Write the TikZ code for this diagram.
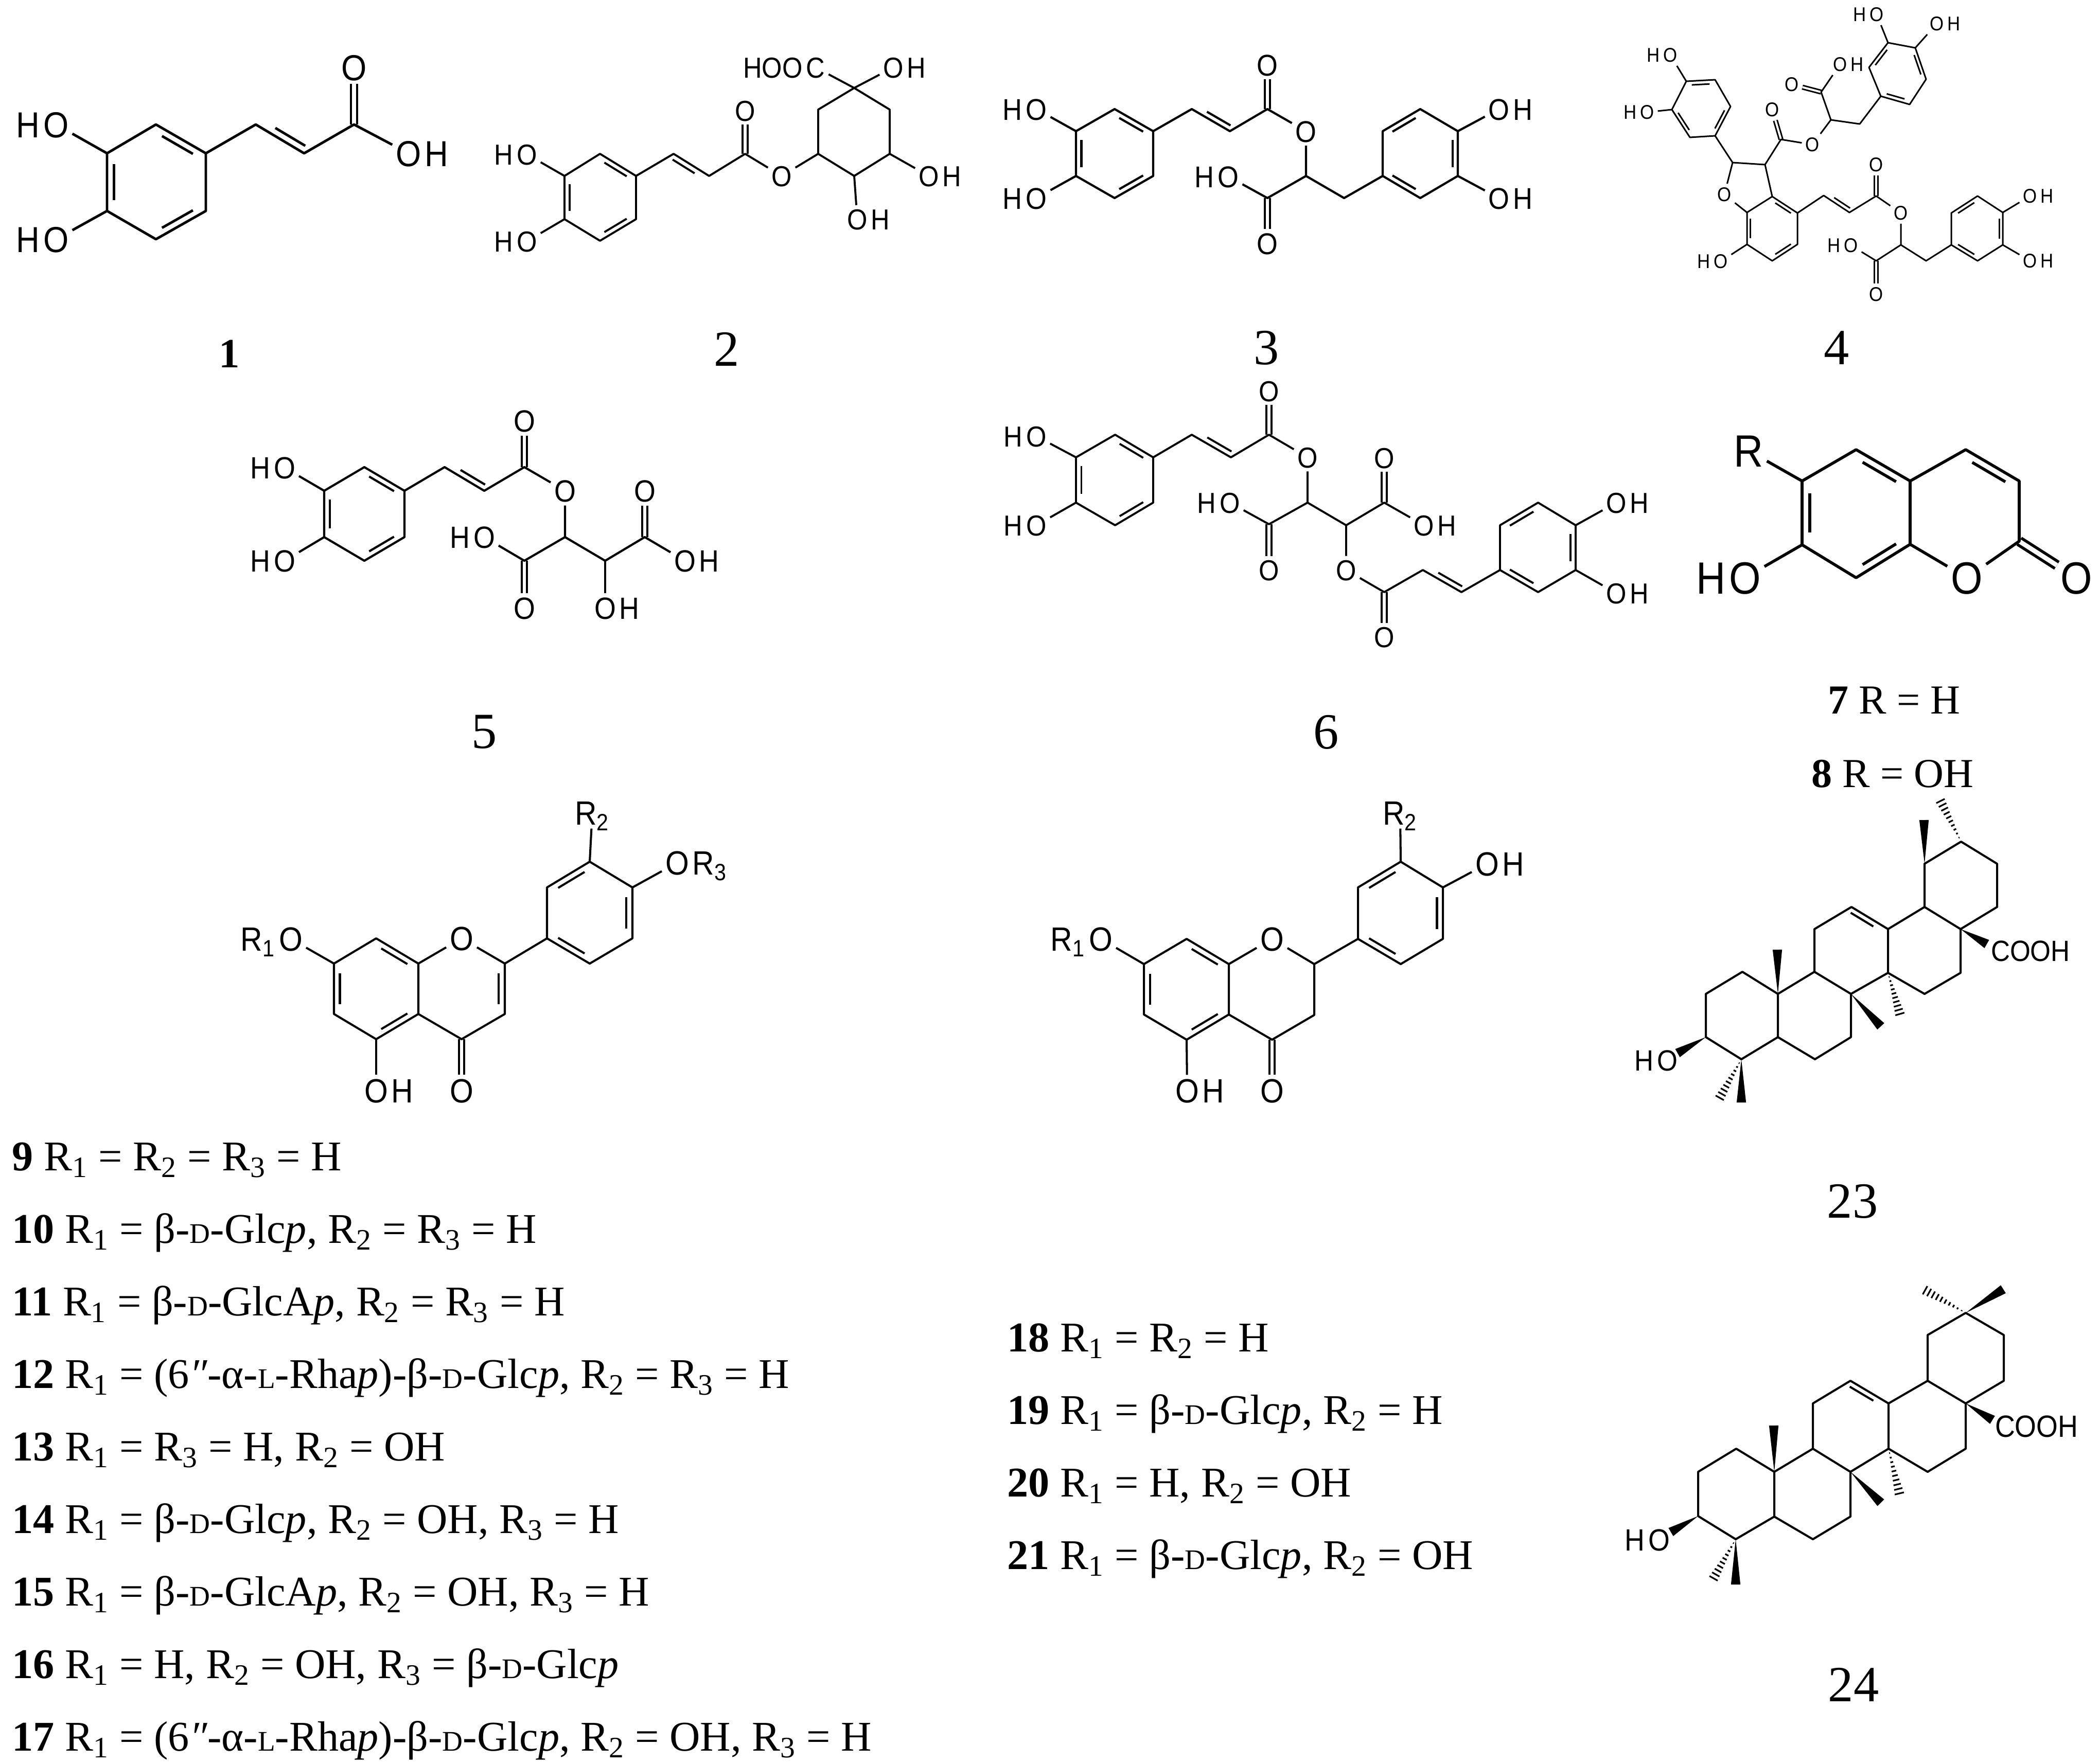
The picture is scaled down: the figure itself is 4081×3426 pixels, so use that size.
\documentclass[tikz,border=0pt]{standalone}
\usepackage{fontspec}
\setmainfont{Liberation Serif}
\newfontfamily\molf[FakeStretch=.9]{Liberation Sans}
\usetikzlibrary{calc}
\def\molsize{20}
\newcommand{\Rsa}{R\textsubscript{1}}
\newcommand{\Rsb}{R\textsubscript{2}}
\newcommand{\Rsc}{R\textsubscript{3}}
\newcommand{\dD}{{\fontsize{15.7}{15.7}\selectfont D}}
\newcommand{\dL}{{\fontsize{15.7}{15.7}\selectfont L}}
\newcommand{\glc}{β-\dD-Glc\textit{p}}
\newcommand{\gla}{β-\dD-GlcA\textit{p}}
\newcommand{\rha}{(6\textit{″}-α-\dL-Rha\textit{p})-\glc}
\newcommand{\dbin}[3]{\draw ($(#1)!.14!(#2)!.14!(#3)$) -- ($(#2)!.14!(#1)!.14!(#3)$);}
\newcommand{\wedgeb}[2]{\fill (#1) -- ($(#2)!2.6pt!90:(#1)$) -- ($(#2)!2.6pt!-90:(#1)$) -- cycle;}
\newcommand{\hashb}[2]{
\coordinate (wl) at ($(#2)!2.6pt!90:(#1)$);
\coordinate (wr) at ($(#2)!2.6pt!-90:(#1)$);
\foreach \t in {.1,.2,...,1}
\draw[line width=.9pt] ($(#1)!\t!(wl)$) -- ($(#1)!\t!(wr)$);
}
\tikzset{
lab/.style={inner sep=0pt,outer sep=0pt,font=\molf\fontsize{\molsize}{\molsize}\selectfont,text height={\molsize*.72pt},text depth=0pt},
atom/.style={lab,inner sep=.5pt,outer sep=1.5pt,label distance=-2pt},
hr/.style={label={[lab]right:#1}},
hl/.style={label={[lab]left:#1}},
dbo/.style={double,double distance={.1*\molsize*1pt}},
num/.style={inner sep=0pt,font=\fontsize{28}{28}\selectfont},
cpd/.style={anchor=base west,inner sep=0pt,font=\fontsize{23.4}{23.4}\selectfont}
}
\begin{document}
\begin{tikzpicture}[x=.01cm,y=-.01cm,line join=round]
\useasboundingbox (0,0) rectangle (4081,3426);
% Compuesto 1
\begin{scope}[line width=1.4pt]
\def\molsize{20}
\node[atom] (ao1) at (688,131) {O};
\node[atom,hr=H] (ao2) at (794,298) {O};
\node[atom,hl=H] (ao3) at (109,242) {O};
\node[atom,hl=H] (ao4) at (109,465) {O};
\path coordinate (a1) at (208,298) coordinate (a2) at (303,242) coordinate (a3) at (400,298)
coordinate (a4) at (400,410) coordinate (a5) at (303,465) coordinate (a6) at (208,410)
coordinate (a7) at (497,242) coordinate (a8) at (591,298) coordinate (a9) at (688,242);
\coordinate (ac) at ($(a1)!.5!(a4)$);
\draw[dbo] (a9) -- (ao1);
\draw (a1) -- (a2) -- (a3) -- (a4) -- (a5) -- (a6) -- cycle;
\draw (a3) -- (a7) -- (a8) -- (a9) -- (ao2);
\draw (a1) -- (ao3);
\draw (a6) -- (ao4);
\dbin{a1}{a6}{ac} \dbin{a2}{a3}{ac} \dbin{a4}{a5}{ac} \dbin{a7}{a8}{a9}
\end{scope}
\node[num,font=\bfseries\fontsize{23}{23}\selectfont] (n1) at (446,688) {1};
% Compuesto 2
\begin{scope}[line width=1.1pt]
\def\molsize{16}
\node[atom] (bo1) at (1448,215) {O};
\node[atom] (bo2) at (1519,342) {O};
\node[atom,hl=HOO] (bc1) at (1585,131) {C};
\node[atom,hr=H] (bo3) at (1736,131) {O};
\node[atom,hr=H] (bo4) at (1805,342) {O};
\node[atom,hr=H] (bo5) at (1666,426) {O};
\node[atom,hl=H] (bo6) at (1024,300) {O};
\node[atom,hl=H] (bo7) at (1024,469) {O};
\path coordinate (b1) at (1097,342) coordinate (b2) at (1166,299) coordinate (b3) at (1236,342)
coordinate (b4) at (1236,426) coordinate (b5) at (1166,468) coordinate (b6) at (1097,426)
coordinate (b7) at (1309,299) coordinate (b8) at (1378,342) coordinate (b9) at (1448,299)
coordinate (q1) at (1590,299) coordinate (q2) at (1590,213) coordinate (q3) at (1660,171)
coordinate (q4) at (1729,213) coordinate (q5) at (1729,299) coordinate (q6) at (1660,342);
\coordinate (bc) at ($(b1)!.5!(b4)$);
\draw[dbo] (b9) -- (bo1);
\draw (b1) -- (b2) -- (b3) -- (b4) -- (b5) -- (b6) -- cycle;
\draw (b3) -- (b7) -- (b8) -- (b9) -- (bo2) -- (q1);
\draw (q1) -- (q2) -- (q3) -- (q4) -- (q5) -- (q6) -- cycle;
\draw (q3) -- (bc1);
\draw (q3) -- (bo3);
\draw (q5) -- (bo4);
\draw (q6) -- (bo5);
\draw (b1) -- (bo6);
\draw (b6) -- (bo7);
\dbin{b1}{b6}{bc} \dbin{b2}{b3}{bc} \dbin{b4}{b5}{bc} \dbin{b7}{b8}{b3}
\end{scope}
\node[num] (n2) at (1412,679) {2};
% Compuesto 3
\begin{scope}[line width=1.2pt]
\def\molsize{16.6}
\node[atom] (co1) at (2463,126) {O};
\node[atom] (co2) at (2538,255) {O};
\node[atom] (co3) at (2463,473) {O};
\node[atom,hl=H] (co4) at (2387,343) {O};
\node[atom,hl=H] (co5) at (2014,212) {O};
\node[atom,hl=H] (co6) at (2014,385) {O};
\node[atom,hr=H] (co7) at (2913,212) {O};
\node[atom,hr=H] (co8) at (2913,385) {O};
\path coordinate (c1) at (2091,255) coordinate (c2) at (2166,212) coordinate (c3) at (2241,255)
coordinate (c4) at (2241,342) coordinate (c5) at (2166,385) coordinate (c6) at (2091,342)
coordinate (c7) at (2316,212) coordinate (c8) at (2390,255) coordinate (c9) at (2463,212)
coordinate (g1) at (2538,342) coordinate (g2) at (2463,385) coordinate (g3) at (2612,385)
coordinate (h1) at (2687,342) coordinate (h2) at (2687,255) coordinate (h3) at (2760,212)
coordinate (h4) at (2833,255) coordinate (h5) at (2833,342) coordinate (h6) at (2760,385);
\coordinate (cc) at ($(c1)!.5!(c4)$);
\coordinate (hc) at ($(h1)!.5!(h4)$);
\draw[dbo] (c9) -- (co1);
\draw[dbo] (g2) -- (co3);
\draw (c1) -- (c2) -- (c3) -- (c4) -- (c5) -- (c6) -- cycle;
\draw (c3) -- (c7) -- (c8) -- (c9) -- (co2) -- (g1);
\draw (g1) -- (g2) -- (co4);
\draw (g1) -- (g3) -- (h1);
\draw (h1) -- (h2) -- (h3) -- (h4) -- (h5) -- (h6) -- cycle;
\draw (c1) -- (co5);
\draw (c6) -- (co6);
\draw (h4) -- (co7);
\draw (h5) -- (co8);
\dbin{c1}{c6}{cc} \dbin{c2}{c3}{cc} \dbin{c4}{c5}{cc} \dbin{c7}{c8}{c9}
\dbin{h2}{h3}{hc} \dbin{h4}{h5}{hc} \dbin{h1}{h6}{hc}
\end{scope}
\node[num] (n3) at (2461,676) {3};
% Compuesto 4
\begin{scope}[line width=.85pt]
\def\molsize{11}
\node[atom,hl=H] (do1) at (3246,107) {O};
\node[atom,hl=H] (do2) at (3201,218) {O};
\node[atom] (do3) at (3444,213) {O};
\node[atom] (do4) at (3522,281) {O};
\node[atom] (do5) at (3482,164) {O};
\node[atom,hr=H] (do6) at (3576,125) {O};
\node[atom,hl=H] (do7) at (3647,28) {O};
\node[atom,hr=H] (do8) at (3764,46) {O};
\node[atom] (do9) at (3351,378) {O};
\node[atom,hl=H] (do10) at (3344,508) {O};
\node[atom] (do11) at (3646,320) {O};
\node[atom] (do12) at (3694,414) {O};
\node[atom] (do13) at (3646,572) {O};
\node[atom,hl=H] (do14) at (3597,477) {O};
\node[atom,hr=H] (do15) at (3945,381) {O};
\node[atom,hr=H] (do16) at (3945,507) {O};
\path coordinate (j1) at (3277,158) coordinate (j2) at (3333,155) coordinate (j3) at (3363,207)
coordinate (j4) at (3333,264) coordinate (j5) at (3284,267) coordinate (j6) at (3249,213)
coordinate (k1) at (3367,316) coordinate (k2) at (3430,320) coordinate (k3) at (3461,271)
coordinate (l1) at (3558,233) coordinate (l2) at (3539,179) coordinate (l3) at (3614,241)
coordinate (m1) at (3655,187) coordinate (m2) at (3632,131) coordinate (m3) at (3669,83)
coordinate (m4) at (3722,93) coordinate (m5) at (3743,154) coordinate (m6) at (3711,203)
coordinate (e1) at (3395,413) coordinate (e2) at (3444,382) coordinate (e3) at (3493,414)
coordinate (e4) at (3493,475) coordinate (e5) at (3444,507) coordinate (e6) at (3395,475)
coordinate (p1) at (3544,380) coordinate (p2) at (3594,413) coordinate (p3) at (3646,381)
coordinate (r1) at (3694,476) coordinate (r2) at (3646,507) coordinate (r3) at (3743,507)
coordinate (s1) at (3792,476) coordinate (s2) at (3792,414) coordinate (s3) at (3843,381)
coordinate (s4) at (3892,413) coordinate (s5) at (3892,476) coordinate (s6) at (3843,507);
\coordinate (jc) at ($(j1)!.5!(j4)$);
\coordinate (mc) at ($(m1)!.5!(m4)$);
\coordinate (ec) at ($(e1)!.5!(e4)$);
\coordinate (sc) at ($(s1)!.5!(s4)$);
\draw[dbo] (k3) -- (do3);
\draw[dbo] (l2) -- (do5);
\draw[dbo] (p3) -- (do11);
\draw[dbo] (r2) -- (do13);
\draw (j1) -- (j2) -- (j3) -- (j4) -- (j5) -- (j6) -- cycle;
\draw (j1) -- (do1);
\draw (j6) -- (do2);
\draw (j4) -- (k1) -- (k2) -- (k3) -- (do4) -- (l1);
\draw (l1) -- (l2) -- (do6);
\draw (l1) -- (l3) -- (m1);
\draw (m1) -- (m2) -- (m3) -- (m4) -- (m5) -- (m6) -- cycle;
\draw (m3) -- (do7);
\draw (m4) -- (do8);
\draw (k1) -- (do9) -- (e1);
\draw (k2) -- (e2);
\draw (e1) -- (e2) -- (e3) -- (e4) -- (e5) -- (e6) -- cycle;
\draw (e6) -- (do10);
\draw (e3) -- (p1) -- (p2) -- (p3) -- (do12) -- (r1);
\draw (r1) -- (r2) -- (do14);
\draw (r1) -- (r3) -- (s1);
\draw (s1) -- (s2) -- (s3) -- (s4) -- (s5) -- (s6) -- cycle;
\draw (s4) -- (do15);
\draw (s5) -- (do16);
\dbin{j1}{j2}{jc} \dbin{j3}{j4}{jc} \dbin{j5}{j6}{jc}
\dbin{m2}{m3}{mc} \dbin{m4}{m5}{mc} \dbin{m1}{m6}{mc}
\dbin{e1}{e6}{ec} \dbin{e2}{e3}{ec} \dbin{e4}{e5}{ec}
\dbin{s2}{s3}{sc} \dbin{s4}{s5}{sc} \dbin{s1}{s6}{sc}
\dbin{p1}{p2}{p3}
\end{scope}
\node[num] (n4) at (3569,676) {4};
% Compuesto 5
\begin{scope}[line width=1.2pt]
\def\molsize{17}
\node[atom] (fo1) at (1019,818) {O};
\node[atom] (fo2) at (1098,954) {O};
\node[atom] (fo3) at (1019,1182) {O};
\node[atom,hl=H] (fo4) at (941,1044) {O};
\node[atom,hr=H] (fo5) at (1176,1182) {O};
\node[atom] (fo6) at (1253,954) {O};
\node[atom,hr=H] (fo7) at (1331,1090) {O};
\node[atom,hl=H] (fo8) at (553,909) {O};
\node[atom,hl=H] (fo9) at (553,1090) {O};
\path coordinate (t1) at (630,954) coordinate (t2) at (708,908) coordinate (t3) at (786,954)
coordinate (t4) at (786,1044) coordinate (t5) at (708,1090) coordinate (t6) at (630,1044)
coordinate (u1) at (864,908) coordinate (u2) at (941,954) coordinate (u3) at (1019,908)
coordinate (v1) at (1098,1044) coordinate (v2) at (1019,1090) coordinate (v3) at (1176,1090)
coordinate (v4) at (1253,1044);
\coordinate (tc) at ($(t1)!.5!(t4)$);
\draw[dbo] (u3) -- (fo1);
\draw[dbo] (v2) -- (fo3);
\draw[dbo] (v4) -- (fo6);
\draw (t1) -- (t2) -- (t3) -- (t4) -- (t5) -- (t6) -- cycle;
\draw (t3) -- (u1) -- (u2) -- (u3) -- (fo2) -- (v1);
\draw (v1) -- (v2) -- (fo4);
\draw (v1) -- (v3) -- (v4) -- (fo7);
\draw (v3) -- (fo5);
\draw (t1) -- (fo8);
\draw (t6) -- (fo9);
\dbin{t1}{t6}{tc} \dbin{t2}{t3}{tc} \dbin{t4}{t5}{tc} \dbin{u1}{u2}{u3}
\end{scope}
\node[num] (n5) at (941,1423) {5};
% Compuesto 6
\begin{scope}[line width=1.1pt]
\def\molsize{16}
\node[atom] (oo1) at (2466,760) {O};
\node[atom] (oo2) at (2541,889) {O};
\node[atom] (oo3) at (2466,1108) {O};
\node[atom,hl=H] (oo4) at (2390,977) {O};
\node[atom] (oo5) at (2690,890) {O};
\node[atom,hr=H] (oo6) at (2767,1021) {O};
\node[atom] (oo7) at (2616,1108) {O};
\node[atom] (oo8) at (2690,1238) {O};
\node[atom,hr=H] (oo9) at (3141,977) {O};
\node[atom,hr=H] (oo10) at (3141,1153) {O};
\node[atom,hl=H] (oo11) at (2014,848) {O};
\node[atom,hl=H] (oo12) at (2014,1021) {O};
\path coordinate (w1) at (2091,889) coordinate (w2) at (2167,845) coordinate (w3) at (2241,889)
coordinate (w4) at (2241,977) coordinate (w5) at (2167,1021) coordinate (w6) at (2091,977)
coordinate (x1) at (2316,845) coordinate (x2) at (2392,889) coordinate (x3) at (2466,845)
coordinate (y1) at (2541,977) coordinate (y2) at (2466,1019) coordinate (y3) at (2616,1021)
coordinate (y4) at (2690,977) coordinate (z1) at (2690,1151) coordinate (z2) at (2765,1108)
coordinate (z3) at (2840,1151) coordinate (i1) at (2915,1108) coordinate (i2) at (2915,1021)
coordinate (i3) at (2989,977) coordinate (i4) at (3062,1021) coordinate (i5) at (3062,1108)
coordinate (i6) at (2989,1151);
\coordinate (wc) at ($(w1)!.5!(w4)$);
\coordinate (ic) at ($(i1)!.5!(i4)$);
\draw[dbo] (x3) -- (oo1);
\draw[dbo] (y2) -- (oo3);
\draw[dbo] (y4) -- (oo5);
\draw[dbo] (z1) -- (oo8);
\draw (w1) -- (w2) -- (w3) -- (w4) -- (w5) -- (w6) -- cycle;
\draw (w3) -- (x1) -- (x2) -- (x3) -- (oo2) -- (y1);
\draw (y1) -- (y2) -- (oo4);
\draw (y1) -- (y3) -- (y4) -- (oo6);
\draw (y3) -- (oo7) -- (z1) -- (z2) -- (z3) -- (i1);
\draw (i1) -- (i2) -- (i3) -- (i4) -- (i5) -- (i6) -- cycle;
\draw (i4) -- (oo9);
\draw (i5) -- (oo10);
\draw (w1) -- (oo11);
\draw (w6) -- (oo12);
\dbin{w1}{w6}{wc} \dbin{w2}{w3}{wc} \dbin{w4}{w5}{wc} \dbin{x1}{x2}{x3} \dbin{z2}{z3}{i1}
\dbin{i2}{i3}{ic} \dbin{i4}{i5}{ic} \dbin{i1}{i6}{ic}
\end{scope}
\node[num] (n6) at (2577,1423) {6};
% Compuestos 7 y 8
\begin{scope}[line width=1.6pt]
\def\molsize{25}
\node[atom] (ro1) at (3398,876) {R};
\node[atom,hl=H] (po1) at (3391,1123) {O};
\node[atom] (po2) at (3822,1123) {O};
\node[atom] (po3) at (4035,1123) {O};
\path coordinate (aa1) at (3502,935) coordinate (aa2) at (3607,874) coordinate (aa3) at (3712,935)
coordinate (aa4) at (3712,1058) coordinate (aa5) at (3607,1123) coordinate (aa6) at (3502,1059)
coordinate (aa7) at (3820,874) coordinate (aa8) at (3924,935) coordinate (aa9) at (3924,1052);
\coordinate (pc) at ($(aa1)!.5!(aa4)$);
\coordinate (pd) at ($(aa7)!.5!(po2)$);
\draw[dbo] (aa9) -- (po3);
\draw (aa1) -- (aa2) -- (aa3) -- (aa4) -- (aa5) -- (aa6) -- cycle;
\draw (aa3) -- (aa7) -- (aa8) -- (aa9) -- (po2) -- (aa4);
\draw (aa1) -- (ro1);
\draw (aa6) -- (po1);
\dbin{aa1}{aa6}{pc} \dbin{aa2}{aa3}{pc} \dbin{aa4}{aa5}{pc} \dbin{aa7}{aa8}{pd}
\end{scope}
\node[cpd,font=\fontsize{22.8}{22.8}\selectfont] (c7) at (3552,1387) {\textbf{7} R = H};
\node[cpd,font=\fontsize{22.8}{22.8}\selectfont] (c8) at (3520,1530) {\textbf{8} R = OH};
% Flavonas 9-17
\begin{scope}[line width=1.15pt]
\def\molsize{18.6}
\node[atom,hl=\Rsa] (fa1) at (565,1825) {O};
\node[atom] (fa2) at (897,1824) {O};
\node[atom] (fa3) at (897,2120) {O};
\node[atom,hr=H] (fa4) at (731,2120) {O};
\node[atom] (fa5) at (1151,1580) {\Rsb};
\node[atom,hr=\Rsc] (fa6) at (1316,1677) {O};
\path coordinate (ca) at (649,1873) coordinate (cb) at (731,1824) coordinate (cd) at (813,1873)
coordinate (ce) at (813,1971) coordinate (cf) at (731,2020) coordinate (cg) at (649,1971)
coordinate (ch) at (981,1873) coordinate (ci) at (981,1971) coordinate (cj) at (897,2020)
coordinate (da) at (1063,1824) coordinate (db) at (1063,1725) coordinate (dc) at (1146,1675)
coordinate (dd) at (1229,1725) coordinate (de) at (1229,1824) coordinate (df) at (1146,1873);
\coordinate (cm) at ($(ca)!.5!(ce)$);
\coordinate (cn) at ($(cd)!.5!(ci)$);
\coordinate (dm) at ($(da)!.5!(dd)$);
\draw[dbo] (cj) -- (fa3);
\draw (ca) -- (cb) -- (cd) -- (ce) -- (cf) -- (cg) -- cycle;
\draw (cd) -- (fa2) -- (ch) -- (ci) -- (cj) -- (ce);
\draw (ca) -- (fa1);
\draw (cf) -- (fa4);
\draw (ch) -- (da);
\draw (da) -- (db) -- (dc) -- (dd) -- (de) -- (df) -- cycle;
\draw (dc) -- (fa5);
\draw (dd) -- (fa6);
\dbin{ca}{cg}{cm} \dbin{cb}{cd}{cm} \dbin{ce}{cf}{cm} \dbin{ch}{ci}{cn}
\dbin{da}{df}{dm} \dbin{db}{dc}{dm} \dbin{dd}{de}{dm}
\end{scope}
\node[cpd] (c9) at (23,2275) {\textbf{9} \Rsa{} = \Rsb{} = \Rsc{} = H};
\node[cpd] (c10) at (23,2416) {\textbf{10} \Rsa{} = \glc, \Rsb{} = \Rsc{} = H};
\node[cpd] (c11) at (23,2557) {\textbf{11} \Rsa{} = \gla, \Rsb{} = \Rsc{} = H};
\node[cpd] (c12) at (23,2698) {\textbf{12} \Rsa{} = \rha, \Rsb{} = \Rsc{} = H};
\node[cpd] (c13) at (23,2839) {\textbf{13} \Rsa{} = \Rsc{} = H, \Rsb{} = OH};
\node[cpd] (c14) at (23,2980) {\textbf{14} \Rsa{} = \glc, \Rsb{} = OH, \Rsc{} = H};
\node[cpd] (c15) at (23,3121) {\textbf{15} \Rsa{} = \gla, \Rsb{} = OH, \Rsc{} = H};
\node[cpd] (c16) at (23,3262) {\textbf{16} \Rsa{} = H, \Rsb{} = OH, \Rsc{} = \glc};
\node[cpd] (c17) at (23,3403) {\textbf{17} \Rsa{} = \rha, \Rsb{} = OH, \Rsc{} = H};
% Flavanonas 18-21
\begin{scope}[line width=1.15pt]
\def\molsize{18.6}
\node[atom,hl=\Rsa] (fb1) at (2139,1825) {O};
\node[atom] (fb2) at (2472,1825) {O};
\node[atom] (fb3) at (2472,2120) {O};
\node[atom,hr=H] (fb4) at (2307,2120) {O};
\node[atom] (fb5) at (2721,1580) {\Rsb};
\node[atom,hr=H] (fb6) at (2890,1679) {O};
\path coordinate (ea) at (2223,1874) coordinate (eb) at (2306,1825) coordinate (ed) at (2388,1874)
coordinate (ee) at (2388,1972) coordinate (ef) at (2306,2021) coordinate (eg) at (2223,1972)
coordinate (eh) at (2554,1874) coordinate (ei) at (2554,1973) coordinate (ej) at (2472,2021)
coordinate (ga) at (2639,1825) coordinate (gb) at (2639,1725) coordinate (gd) at (2722,1675)
coordinate (ge) at (2804,1725) coordinate (gf) at (2804,1825) coordinate (gg) at (2722,1874);
\coordinate (em) at ($(ea)!.5!(ee)$);
\coordinate (gm) at ($(ga)!.5!(ge)$);
\draw[dbo] (ej) -- (fb3);
\draw (ea) -- (eb) -- (ed) -- (ee) -- (ef) -- (eg) -- cycle;
\draw (ed) -- (fb2) -- (eh) -- (ei) -- (ej) -- (ee);
\draw (ea) -- (fb1);
\draw (ef) -- (fb4);
\draw (eh) -- (ga);
\draw (ga) -- (gb) -- (gd) -- (ge) -- (gf) -- (gg) -- cycle;
\draw (gd) -- (fb5);
\draw (ge) -- (fb6);
\dbin{ea}{eg}{em} \dbin{eb}{ed}{em} \dbin{ee}{ef}{em}
\dbin{ga}{gg}{gm} \dbin{gb}{gd}{gm} \dbin{ge}{gf}{gm}
\end{scope}
\node[cpd] (c18) at (1957,2627) {\textbf{18} \Rsa{} = \Rsb{} = H};
\node[cpd] (c19) at (1957,2768) {\textbf{19} \Rsa{} = \glc, \Rsb{} = H};
\node[cpd] (c20) at (1957,2909) {\textbf{20} \Rsa{} = H, \Rsb{} = OH};
\node[cpd] (c21) at (1957,3050) {\textbf{21} \Rsa{} = \glc, \Rsb{} = OH};
% Compuesto 23
\begin{scope}[line width=1.15pt]
\def\molsize{16.2}
\node[atom,hl=H] (uo1) at (3240,2061) {O};
\node[atom,anchor=west] (uo2) at (3862,1848) {COOH};
\path coordinate (ua) at (3315,1932) coordinate (ub) at (3386,1889) coordinate (uc) at (3455,1932)
coordinate (ud) at (3455,2016) coordinate (ue) at (3384,2059) coordinate (uf) at (3315,2016)
coordinate (ug) at (3526,1889) coordinate (uh) at (3597,1932) coordinate (ui) at (3597,2016)
coordinate (uj) at (3527,2059) coordinate (uk) at (3526,1806) coordinate (ul) at (3598,1763)
coordinate (um) at (3669,1806) coordinate (un) at (3669,1891) coordinate (uo) at (3740,1763)
coordinate (up) at (3810,1806) coordinate (uq) at (3810,1891) coordinate (ur) at (3740,1932)
coordinate (us) at (3740,1679) coordinate (ut) at (3811,1636) coordinate (uu) at (3881,1679)
coordinate (uv) at (3881,1763)
coordinate (ux1) at (3739,1594) coordinate (ux2) at (3771,1557) coordinate (ux3) at (3454,1846)
coordinate (ux4) at (3861,1835) coordinate (ux5) at (3655,1995) coordinate (ux6) at (3692,1971)
coordinate (ux7) at (3260,2047) coordinate (ux8) at (3342,2134) coordinate (ux9) at (3384,2143);
\draw (ua) -- (ub) -- (uc) -- (ud) -- (ue) -- (uf) -- cycle;
\draw (uc) -- (ug) -- (uh) -- (ui) -- (uj) -- (ud);
\draw (ug) -- (uk) -- (ul) -- (um) -- (un) -- (uh);
\draw (um) -- (uo) -- (up) -- (uq) -- (ur) -- (un);
\draw (uo) -- (us) -- (ut) -- (uu) -- (uv) -- (up);
\dbin{ul}{um}{uk}
\wedgeb{us}{ux1} \hashb{ut}{ux2} \wedgeb{uc}{ux3} \wedgeb{up}{ux4}
\wedgeb{uh}{ux5} \hashb{un}{ux6} \wedgeb{uf}{ux7} \hashb{ue}{ux8} \wedgeb{ue}{ux9}
\end{scope}
\node[num] (n23) at (3600,2335) {23};
% Compuesto 24
\begin{scope}[line width=1.15pt]
\def\molsize{17}
\node[atom,hl=H] (vo1) at (3224,2993) {O};
\node[atom,anchor=west] (vo2) at (3870,2772) {COOH};
\path coordinate (va) at (3300,2861) coordinate (vb) at (3374,2816) coordinate (vc) at (3448,2861)
coordinate (vd) at (3448,2948) coordinate (ve) at (3373,2992) coordinate (vf) at (3300,2947)
coordinate (vg) at (3523,2816) coordinate (vh) at (3596,2861) coordinate (vi) at (3596,2948)
coordinate (vj) at (3523,2992) coordinate (vk) at (3523,2728) coordinate (vl) at (3596,2684)
coordinate (vm) at (3670,2728) coordinate (vn) at (3670,2816) coordinate (vo) at (3746,2684)
coordinate (vp) at (3820,2728) coordinate (vq) at (3820,2816) coordinate (vr) at (3746,2861)
coordinate (vs) at (3746,2595) coordinate (vt) at (3820,2552) coordinate (vu) at (3894,2595)
coordinate (vv) at (3894,2684)
coordinate (vx1) at (3447,2771) coordinate (vx2) at (3872,2760) coordinate (vx3) at (3655,2921)
coordinate (vx4) at (3691,2903) coordinate (vx5) at (3893,2506) coordinate (vx6) at (3741,2508)
coordinate (vx7) at (3247,2978) coordinate (vx8) at (3330,3068) coordinate (vx9) at (3373,3080);
\draw (va) -- (vb) -- (vc) -- (vd) -- (ve) -- (vf) -- cycle;
\draw (vc) -- (vg) -- (vh) -- (vi) -- (vj) -- (vd);
\draw (vg) -- (vk) -- (vl) -- (vm) -- (vn) -- (vh);
\draw (vm) -- (vo) -- (vp) -- (vq) -- (vr) -- (vn);
\draw (vo) -- (vs) -- (vt) -- (vu) -- (vv) -- (vp);
\dbin{vl}{vm}{vk}
\wedgeb{vc}{vx1} \wedgeb{vp}{vx2} \wedgeb{vh}{vx3} \hashb{vn}{vx4}
\wedgeb{vt}{vx5} \hashb{vt}{vx6} \wedgeb{vf}{vx7} \hashb{ve}{vx8} \wedgeb{ve}{vx9}
\end{scope}
\node[num] (n24) at (3602,3275) {24};
\end{tikzpicture}
\end{document}
